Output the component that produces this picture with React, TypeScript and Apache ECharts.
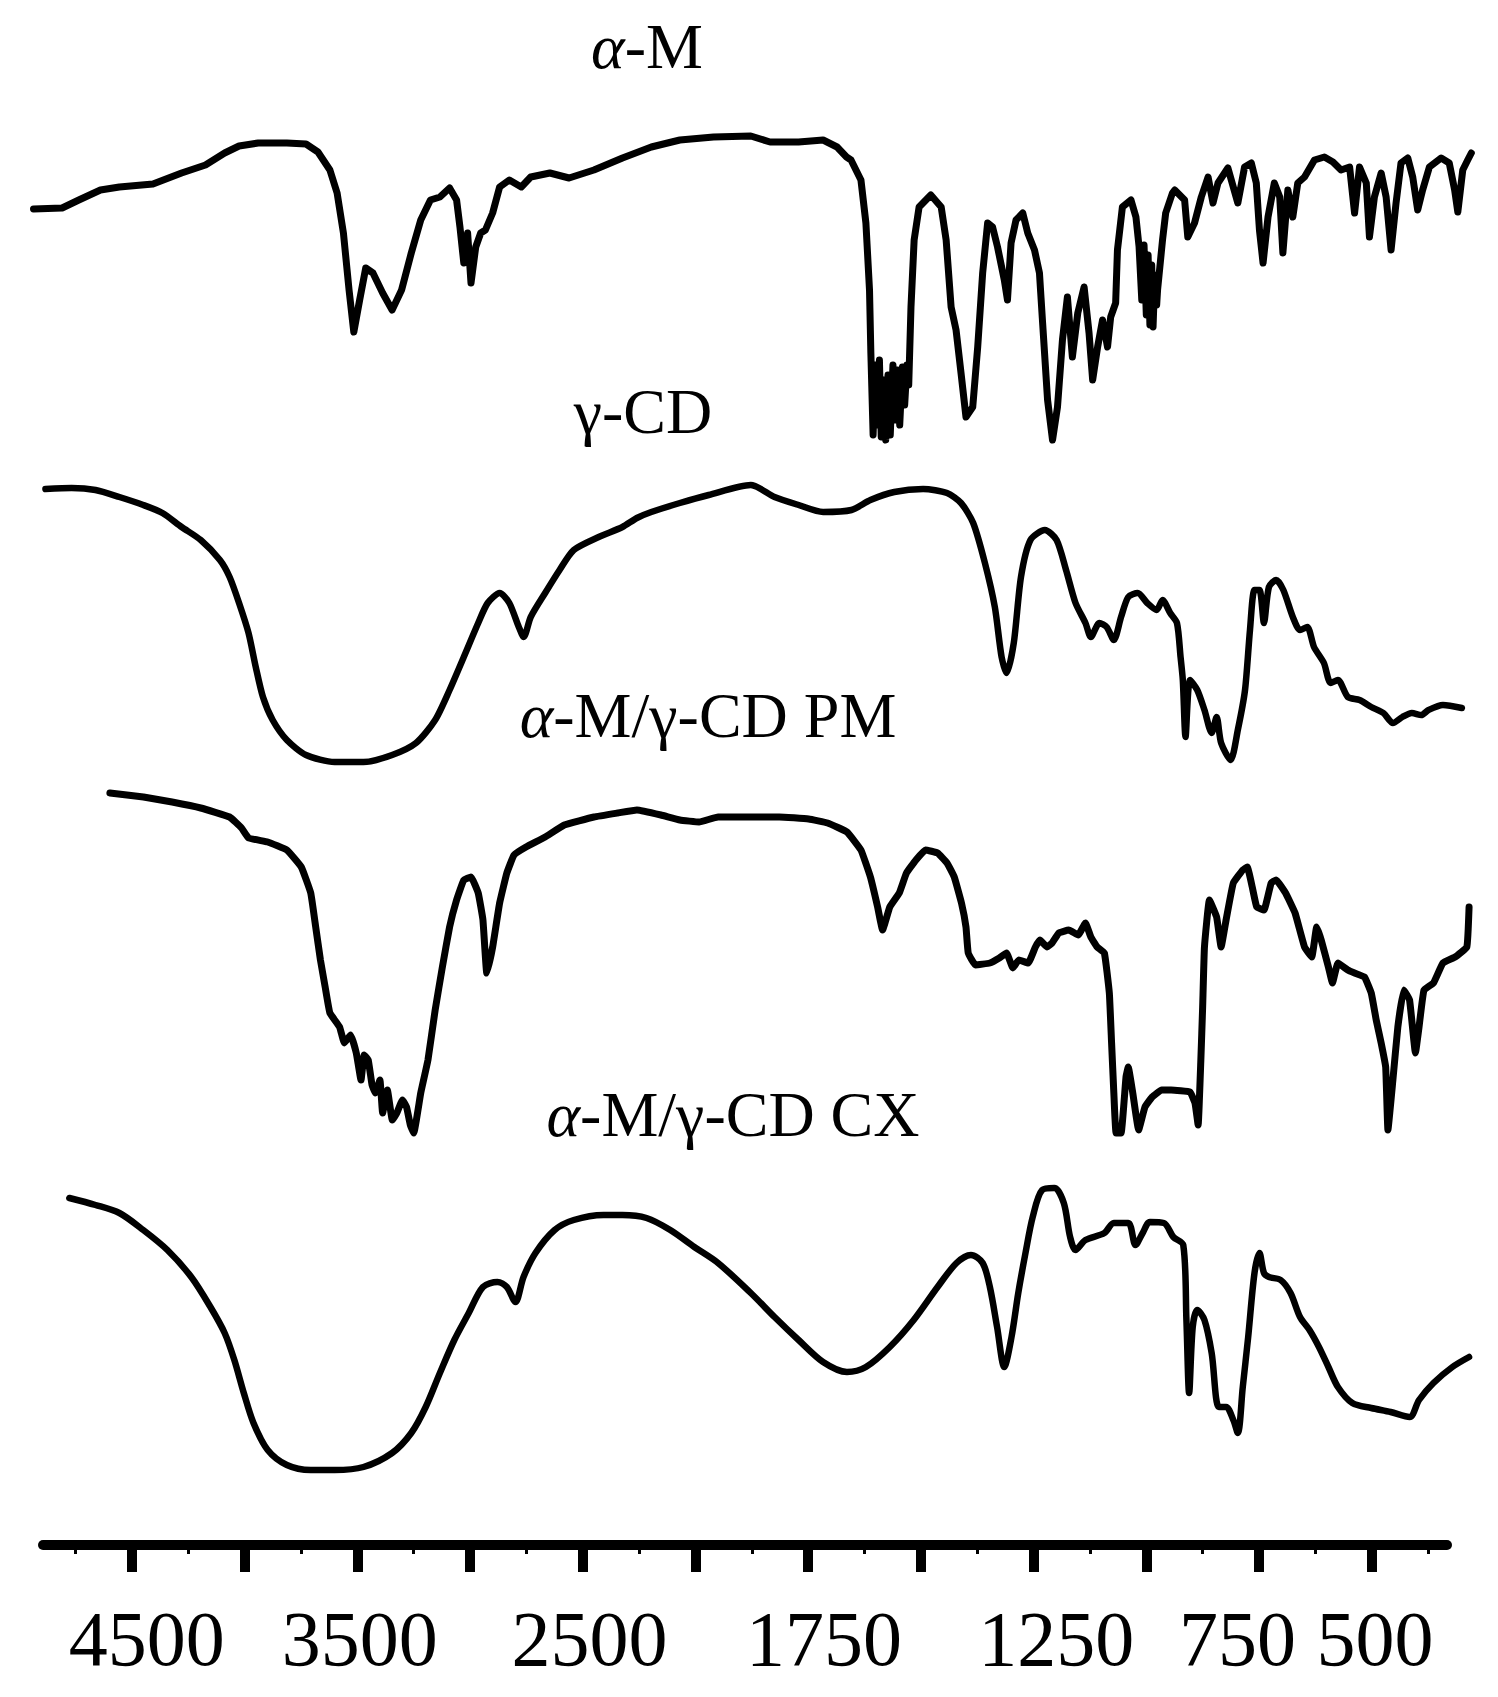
import React, { useEffect, useRef } from "react";
import * as echarts from "echarts";

// Wavenumber (cm-1) at each labelled tick, and its tick index on the (piecewise) axis
const LABEL_WN = [4500, 3500, 2500, 1750, 1250, 750, 500];
const LABEL_POS = [0, 2, 4, 6, 8, 10, 11];
const TICK_WN = [4500, 4000, 3500, 3000, 2500, 2125, 1750, 1500, 1250, 1000, 750, 500];

const SERIES_NAMES = ["α-M", "γ-CD", "α-M/γ-CD PM", "α-M/γ-CD CX"];

// Transmittance (arbitrary units, spectra offset vertically) vs wavenumber
const ALPHA_M: number[][] = [
  [4937,133.6],[4810,133.7],[4736,134.5],[4640,135.5],[4556,135.8],[4407,136.1],[4280,137.2],[4174,138.0],[4089,139.2],[4025,139.9],[3940,140.2],[3813,140.2],[3728,140.1],[3675,139.3],[3622,137.5],[3590,135.2],[3562,131.2],[3537,125.5],[3516,121.3],[3490,124.5],[3463,127.7],[3431,127.2],[3388,125.2],[3346,123.5],[3304,125.5],[3261,129.2],[3219,132.5],[3176,134.5],[3134,134.8],[3091,135.7],[3060,134.5],[3045,131.8],[3028,128.2],[3011,131.2],[2996,126.2],[2975,129.8],[2953,131.2],[2932,131.5],[2900,133.2],[2869,135.8],[2826,136.5],[2773,135.8],[2731,136.8],[2646,137.2],[2561,136.7],[2463,137.5],[2368,138.7],[2272,139.8],[2177,140.5],[2065,140.8],[1941,140.9],
  [1877,140.3],[1782,140.3],[1717,140.5],[1686,139.8],[1665,138.8],
  [1655,138.5],[1633,136.5],[1622,132.2],[1614,125.5],[1611,119.2],[1606,111.0],[1601,118.0],[1596,112.0],[1592,118.5],[1588,110.8],[1583,116.5],[1578,110.5],[1573,117.0],[1568,111.0],[1562,118.0],[1557,112.5],[1552,117.5],[1547,112.0],[1541,117.8],[1536,114.0],[1531,118.0],[1527,116.0],[1522,123.8],[1515,130.5],[1504,133.8],[1478,135.0],[1455,133.8],[1444,130.5],[1433,123.8],[1422,121.5],[1411,117.2],[1400,112.8],[1385,113.8],[1374,119.8],[1363,127.2],[1352,132.2],[1341,131.8],[1330,129.8],[1315,126.5],[1308,124.5],[1300,130.2],[1289,132.5],[1274,133.2],[1263,131.2],[1248,129.5],[1237,127.2],[1230,122.2],[1219,114.5],[1208,110.5],[1197,113.8],[1186,120.5],[1175,124.8],[1164,118.8],[1152,123.2],[1138,125.8],[1127,121.2],[1119,116.5],[1108,119.8],[1097,122.5],[1086,119.8],[1079,122.8],[1068,124.2],[1064,129.5],[1053,133.8],[1034,134.5],[1023,132.8],[1016,129.8],[1010,124.5],[1005,130.0],[1000,123.0],[996,129.0],[992,122.0],[988,128.0],[985,121.8],[981,127.0],[977,124.0],[975,125.5],[964,130.5],[957,133.2],[942,135.2],
  [937,135.5],[915,134.5],[908,130.8],[893,132.2],[878,134.8],[863,136.8],[852,134.2],[841,136.2],[819,137.7],[797,134.2],[782,137.8],[767,138.2],[756,136.2],[749,131.5],[741,128.2],[730,132.8],[716,136.2],[704,134.8],[697,129.2],[686,135.5],[675,132.8],[664,136.2],[649,136.8],[627,138.5],[605,138.8],[586,138.3],[568,137.5],[549,137.8],[538,133.2],[527,137.8],[512,136.2],[505,130.8],[494,134.8],[479,137.2],[468,134.8],[457,129.5],[446,134.2],[435,138.2],[420,138.7],[409,136.8],[398,133.5],[387,135.5],[372,137.8],[346,138.7],[328,138.2],[316,135.5],[309,133.3],[298,137.5],[287,138.5],[279,139.2]
];

const GAMMA_CD: number[][] = [
  [4884,105.6],[4768,105.7],[4662,105.5],[4556,104.8],[4450,104.0],[4365,103.2],[4280,101.8],[4195,100.5],[4110,98.5],[4067,96.8],[4025,94.2],[3983,91.2],[3951,87.8],[3919,84.8],[3876,82.5],[3813,80.5],[3728,79.0],[3601,78.3],[3473,78.3],[3346,79.0],[3240,80.2],[3155,82.5],[3091,85.5],[3028,88.8],[2964,92.2],[2922,94.2],[2869,95.2],[2826,94.2],[2784,91.8],[2762,90.8],[2731,92.8],[2667,95.2],[2603,97.5],[2540,99.5],[2447,100.8],[2368,101.8],[2320,102.7],[2272,103.3],[2177,104.2],[2081,105.0],[1941,106.0],
  [1862,104.8],[1782,104.0],[1717,103.3],[1654,103.5],[1612,104.5],[1559,105.3],[1495,105.6],[1442,105.2],[1411,104.2],[1384,102.2],[1358,98.2],[1336,93.8],[1321,88.8],[1310,87.2],[1294,90.2],[1278,96.8],[1257,100.5],[1225,101.5],[1199,100.5],[1178,97.5],[1157,94.2],[1135,92.2],[1123,90.8],[1104,92.2],[1088,91.8],[1072,90.5],[1056,92.8],[1040,94.8],[1019,95.2],[998,94.2],[977,93.5],[964,94.5],[947,93.2],[932,92.2],[924,88.8],[919,86.5],[913,80.8],[903,86.5],[887,85.5],[871,83.5],[855,81.2],[844,82.8],[834,80.2],[813,78.5],[797,81.5],[781,85.5],[770,91.5],[760,95.5],[749,95.5],[739,92.2],[728,95.8],[712,96.5],[696,95.5],[675,92.8],[659,91.5],[643,91.8],[628,89.8],[606,88.2],[591,86.2],[575,86.5],[553,84.8],[527,84.5],[501,83.8],[474,83.2],[453,82.2],[432,82.8],[411,83.2],[390,83.0],[374,83.5],[342,84.0],[300,83.7]
];

const PM: number[][] = [
  [4598,75.2],[4449,74.8],[4322,74.3],[4195,73.7],[4067,72.8],[4014,71.7],[3983,70.7],[3898,70.3],[3813,69.5],[3749,67.8],[3707,65.2],[3685,61.8],[3664,58.5],[3643,55.8],[3622,53.2],[3579,51.8],[3558,50.2],[3530,51.0],[3505,49.2],[3484,46.5],[3470,49.0],[3452,48.5],[3435,46.0],[3420,45.2],[3400,46.5],[3388,43.2],[3367,45.5],[3345,42.5],[3325,43.2],[3300,44.5],[3282,43.8],[3265,42.0],[3250,41.2],[3219,45.2],[3187,48.5],[3155,53.5],[3123,57.8],[3091,61.8],[3060,64.5],[3028,66.5],[2996,66.8],[2964,65.2],[2943,62.5],[2926,57.2],[2900,59.8],[2869,64.2],[2837,67.2],[2805,69.0],[2752,69.8],[2667,70.8],[2582,72.0],[2463,72.8],[2384,73.2],[2320,73.5],[2240,73.0],[2177,72.5],[2113,72.3],[2050,72.8],[1941,72.8],
  [1846,72.8],[1749,72.6],[1707,72.2],[1664,71.3],[1633,69.5],[1612,66.8],[1596,63.8],[1585,61.5],[1569,63.8],[1548,65.2],[1532,67.2],[1511,68.5],[1490,69.5],[1463,69.2],[1442,68.2],[1426,66.8],[1410,64.2],[1400,61.8],[1395,59.2],[1379,58.0],[1347,58.2],[1326,58.7],[1310,59.2],[1296,57.7],[1283,58.5],[1262,58.2],[1246,59.8],[1236,60.5],[1220,59.8],[1209,60.2],[1194,61.2],[1172,61.5],[1151,61.0],[1135,62.2],[1123,60.8],[1109,59.8],[1093,59.2],[1082,55.2],[1077,50.2],[1072,45.2],[1067,41.2],[1056,41.2],[1045,46.8],[1040,47.8],[1030,45.2],[1017,41.5],[1003,43.8],[987,44.8],[966,45.5],[945,45.5],[903,45.3],[892,44.2],[885,42.0],[879,48.5],[875,53.8],[871,59.8],[860,64.5],[844,62.8],[834,59.8],[823,62.5],[807,66.2],[786,67.5],[776,67.8],[765,65.8],[755,63.8],[739,63.5],[723,66.2],[712,66.5],[691,65.2],[670,63.2],[649,59.8],[633,58.8],[622,61.8],[612,60.5],[596,57.8],[587,56.2],[575,58.2],[553,57.5],[538,57.2],[516,56.8],[501,55.2],[490,52.5],[479,50.2],[469,47.8],[464,41.5],[453,46.5],[442,51.8],[429,55.5],[416,54.5],[403,49.2],[395,51.8],[384,55.5],[363,56.2],[342,58.2],[315,58.8],[289,59.8],[284,63.8]
];

const CX: number[][] = [
  [4778,34.7],[4662,34.0],[4556,33.2],[4450,31.5],[4343,29.5],[4237,26.8],[4152,23.8],[4089,21.2],[4046,18.5],[4004,15.2],[3961,12.2],[3898,9.5],[3813,8.0],[3707,7.5],[3601,7.5],[3473,7.8],[3346,9.2],[3261,11.2],[3197,13.8],[3134,17.2],[3070,20.5],[3006,23.2],[2943,25.8],[2879,26.3],[2837,25.8],[2799,24.3],[2763,26.8],[2710,29.2],[2625,31.5],[2540,32.5],[2431,33.0],[2368,33.0],[2288,32.7],[2209,31.5],[2129,29.8],[2050,28.2],[1941,25.2],
  [1862,22.8],[1782,20.5],[1717,18.3],[1664,17.3],[1622,17.8],[1569,19.8],[1516,22.5],[1463,25.8],[1421,28.2],[1389,29.0],[1363,28.2],[1347,25.8],[1331,21.8],[1315,17.8],[1299,20.8],[1284,25.2],[1268,29.2],[1252,32.8],[1231,35.5],[1204,35.7],[1183,34.2],[1169,30.8],[1157,29.5],[1135,30.5],[1093,31.2],[1072,32.2],[1040,32.2],[1024,30.0],[1008,31.2],[992,32.3],[961,32.2],[940,30.8],[918,30.0],[911,22.5],[905,15.2],[897,21.8],[887,23.5],[871,22.5],[855,19.2],[839,13.8],[823,13.8],[807,12.5],[797,11.2],[786,15.8],[774,20.8],[760,27.2],[749,29.2],[739,27.2],[728,26.8],[702,26.5],[680,25.2],[659,22.8],[638,21.5],[617,19.8],[596,17.8],[575,15.8],[543,14.2],[501,13.7],[458,13.3],[416,12.8],[395,14.5],[363,16.2],[321,17.8],[284,18.8]
];

// piecewise mapping of wavenumber onto the axis' tick index
function wnToU(wn: number): number {
  if (wn >= LABEL_WN[0]) {
    const s = (LABEL_POS[1] - LABEL_POS[0]) / (LABEL_WN[0] - LABEL_WN[1]);
    return LABEL_POS[0] - (wn - LABEL_WN[0]) * s;
  }
  for (let i = 0; i < LABEL_WN.length - 1; i++) {
    const a = LABEL_WN[i], b = LABEL_WN[i + 1];
    if (wn <= a && wn >= b) {
      return LABEL_POS[i] + ((a - wn) / (a - b)) * (LABEL_POS[i + 1] - LABEL_POS[i]);
    }
  }
  const n = LABEL_WN.length - 1;
  const s = (LABEL_POS[n] - LABEL_POS[n - 1]) / (LABEL_WN[n - 1] - LABEL_WN[n]);
  return LABEL_POS[n] + (LABEL_WN[n] - wn) * s;
}

const W = 1498;
const H = 1697;
const PX_PER_UNIT = 112.7;
const ORIGIN_X = 132; // pixel of 4500
const AXIS_LEFT = 43;
const AXIS_RIGHT_PX = 1447;
const GRID_BOTTOM = 152;
const Y_MAX = 154.5;
// label text centres as drawn in the figure (slightly off their ticks), in tick units
const LABEL_SHIFT = [0.13, 0.02, 0.06, 0.14, 0.2, -0.19, 0.03];
const FONT = "'Liberation Serif', 'DejaVu Serif', 'Times New Roman', serif";

export default function App() {
  const ref = useRef<HTMLDivElement>(null);
  useEffect(() => {
    document.body.style.margin = "0";
    if (!ref.current) return;
    const chart = echarts.init(ref.current, undefined, { renderer: "svg" });
    const xMin0 = (0 - ORIGIN_X) / PX_PER_UNIT;
    const xMax0 = (W - ORIGIN_X) / PX_PER_UNIT;
    const xMin1 = (AXIS_LEFT - ORIGIN_X) / PX_PER_UNIT;
    const xMax1 = (AXIS_RIGHT_PX - ORIGIN_X) / PX_PER_UNIT;
    const tickU = TICK_WN.map(wnToU);
    const labelU = LABEL_WN.map((wn, i) => wnToU(wn) + LABEL_SHIFT[i]);
    const minorU: number[] = [];
    for (let v = -0.5; v <= 11.5 + 1e-9; v += 1) minorU.push(v);

    const spectra = [ALPHA_M, GAMMA_CD, PM, CX];
    const widths = [7, 6.5, 7, 6.5];
    const smooth = [0, 0.25, 0.1, 0.3];
    const titles = [
      { text: "{a|α}-M", x: 647, y: 46 },
      { text: "γ-CD", x: 643, y: 411 },
      { text: "{a|α}-M/γ-CD PM", x: 708, y: 715 },
      { text: "{a|α}-M/γ-CD CX", x: 733, y: 1114 },
    ];
    const TITLE_SIZE = 64;

    chart.setOption({
      animation: false,
      backgroundColor: "#ffffff",
      grid: [
        { left: 0, right: 0, top: 0, bottom: GRID_BOTTOM },
        { left: AXIS_LEFT, right: W - AXIS_RIGHT_PX, top: 0, bottom: GRID_BOTTOM },
      ],
      xAxis: [
        { type: "value", gridIndex: 0, min: xMin0, max: xMax0, show: false },
        {
          type: "value", gridIndex: 1, min: xMin1, max: xMax1, position: "bottom",
          axisLine: { show: true, lineStyle: { color: "#000", width: 10 } },
          axisTick: { show: true, customValues: tickU, length: 27, lineStyle: { color: "#000", width: 10 } },
          axisLabel: {
            show: true, customValues: labelU, margin: 54, color: "#000",
            fontFamily: FONT, fontSize: 78, hideOverlap: false,
            showMinLabel: true, showMaxLabel: true,
            formatter: (v: number) => {
              const i = labelU.findIndex((u) => Math.abs(u - v) < 1e-6);
              return i >= 0 ? String(LABEL_WN[i]) : "";
            },
          },
          splitLine: { show: false },
        },
        {
          type: "value", gridIndex: 1, min: xMin1, max: xMax1, position: "bottom", offset: 0,
          axisLine: { show: false },
          axisTick: { show: true, customValues: minorU, length: 9, lineStyle: { color: "#000", width: 3 } },
          axisLabel: { show: false },
          splitLine: { show: false },
        },
      ],
      yAxis: [
        { type: "value", gridIndex: 0, min: 0, max: Y_MAX, show: false },
        { type: "value", gridIndex: 1, min: 0, max: Y_MAX, show: false },
      ],
      series: spectra.map((d, i) => ({
        name: SERIES_NAMES[i],
        type: "line",
        xAxisIndex: 0,
        yAxisIndex: 0,
        data: d.map(([wn, t]) => [wnToU(wn), t]),
        showSymbol: false,
        smooth: smooth[i],
        lineStyle: { color: "#000", width: widths[i], join: "round", cap: "round" },
      })),
      graphic: titles.map((t) => ({
        type: "text",
        x: t.x,
        y: t.y,
        style: {
          text: t.text,
          align: "center",
          verticalAlign: "middle",
          fill: "#000",
          font: `${TITLE_SIZE}px ${FONT}`,
          rich: { a: { fontStyle: "italic", fontSize: TITLE_SIZE, fontFamily: FONT, fill: "#000" } },
        },
      })),
    });
    return () => chart.dispose();
  }, []);
  return <div ref={ref} style={{ position: "absolute", left: 0, top: 0, width: W, height: H }} />;
}
